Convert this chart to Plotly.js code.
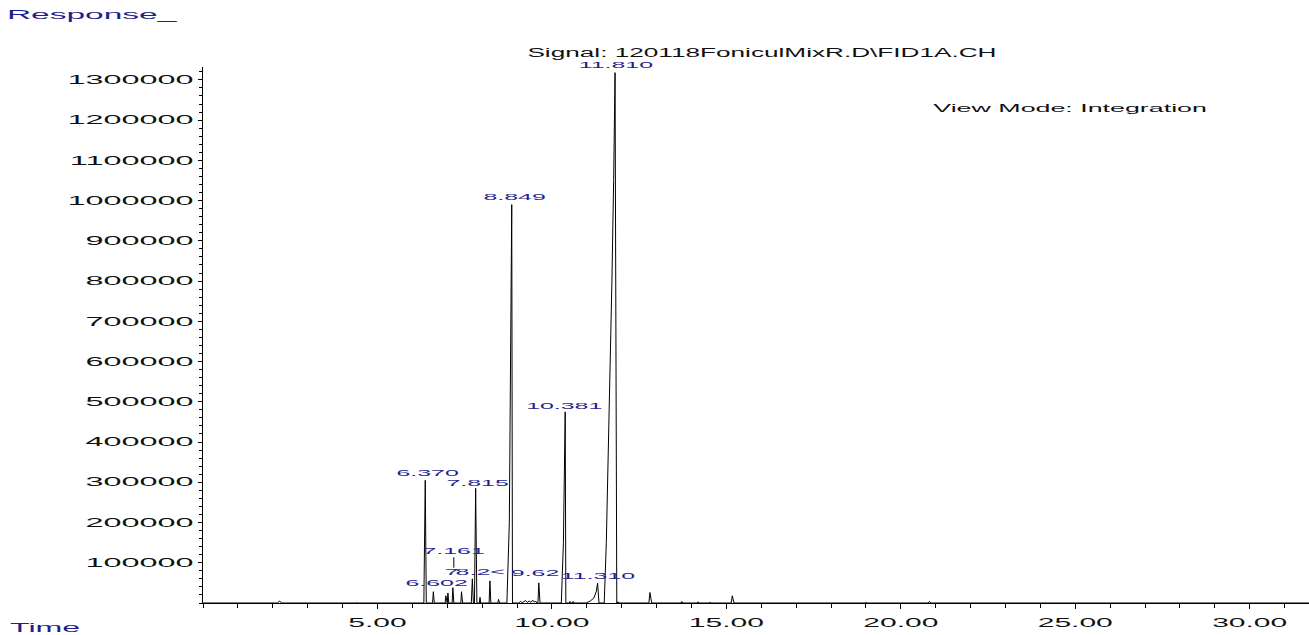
<!DOCTYPE html>
<html><head><meta charset="utf-8">
<script src="https://cdn.plot.ly/plotly-3.0.1.min.js"></script>
<style>html,body{margin:0;padding:0;background:#fff;overflow:hidden}#chart{width:1309px;height:635px}</style>
</head><body><div id="chart"></div>
<script>
// ---- data ----
const times = [
  0, 2.14, 2.19, 2.26, 4.37, 4.40, 4.43,
  6.33, 6.370, 6.40,
  6.58, 6.602, 6.63,
  6.94, 6.96, 6.985,
  7.00, 7.02, 7.045,
  7.14, 7.161, 7.19,
  7.39, 7.41, 7.44,
  7.69, 7.72, 7.75,
  7.78, 7.815, 7.85,
  7.92, 7.94, 7.96,
  8.20, 8.224, 8.25,
  8.45, 8.47, 8.50,
  8.71, 8.78, 8.83, 8.849, 8.87,
  9.05, 9.10, 9.15, 9.25, 9.30, 9.35, 9.40, 9.45, 9.50, 9.53, 9.57,
  9.60, 9.625, 9.66,
  10.27, 10.33, 10.381, 10.40,
  10.50, 10.52, 10.55,
  10.59, 10.61, 10.64,
  10.98, 11.10, 11.20, 11.27, 11.31, 11.35,
  11.50, 11.56, 11.64, 11.72, 11.77, 11.81, 11.86,
  11.87, 11.89, 11.92,
  12.78, 12.81, 12.86,
  13.70, 13.72, 13.75,
  14.17, 14.19, 14.22,
  14.51, 14.53, 14.56,
  15.14, 15.17, 15.22,
  15.33, 15.35, 15.38,
  15.58, 15.60, 15.63,
  15.88, 15.90, 15.93,
  18.98, 19.00, 19.03,
  20.79, 20.82, 20.86,
  24.21, 24.24, 24.27,
  31.7
];
const responses = [
  0, 0, 5000, 0, 0, 1500, 0,
  0, 305000, 0,
  0, 28000, 0,
  0, 18000, 0,
  0, 25000, 0,
  0, 38000, 0,
  0, 28000, 0,
  0, 60000, 0,
  0, 285000, 0,
  0, 14000, 0,
  0, 55000, 0,
  0, 9000, 0,
  0, 200000, 700000, 990000, 0,
  0, 4000, 1000, 6000, 1500, 5000, 1500, 7000, 2000, 5000, 0,
  0, 50000, 0,
  0, 150000, 475000, 0,
  0, 4000, 0,
  0, 4000, 0,
  0, 5000, 12000, 28000, 49000, 0,
  0, 150000, 450000, 800000, 1050000, 1318000, 0,
  0, 3000, 0,
  0, 26000, 0,
  0, 4000, 0,
  0, 3000, 0,
  0, 2000, 0,
  0, 18000, 0,
  0, 1500, 0,
  0, 1000, 0,
  0, 1000, 0,
  0, 2000, 0,
  0, 4000, 0,
  0, 1500, 0,
  0
];
const labelTimes = [6.370, 6.602, 7.161, 7.72, 7.815, 8.224, 8.849, 9.625, 10.381, 11.310, 11.810];
const labelTexts = ["6.370", "6.602", "7.161", "7", "7.815", "8.2&lt;", "8.849", "9.62", "10.381", "11.310", "11.810"];
const xTickVals = [5, 10, 15, 20, 25, 30];
const xTickText = ["5.00", "10.00", "15.00", "20.00", "25.00", "30.00"];
const yTickVals = [100000, 200000, 300000, 400000, 500000, 600000, 700000, 800000, 900000, 1000000, 1100000, 1200000, 1300000];
const yTickText = ["100000", "200000", "300000", "400000", "500000", "600000", "700000", "800000", "900000", "1000000", "1100000", "1200000", "1300000"];
const titleText = "Signal: 120118FoniculMixR.D\\FID1A.CH";

// ---- label placement (style) ----
const labelXShift = [2, 3, 1, -21, 2, -10, 3, -4, -1, 0, 1];
const labelYShift = [7, 9, 0, 7, 5, 9, 7.5, 10, 6, 7, 7.5];
const NAVY = '#1f1f8f';
const FONT = 'Liberation Sans, Arial, sans-serif';

const annotations = labelTimes.map((t, i) => {
  const h = responses[times.indexOf(t)];
  const a = {
    x: t, y: h, xref: 'x', yref: 'y', text: labelTexts[i],
    xanchor: 'center', yanchor: 'middle', xshift: labelXShift[i], yshift: labelYShift[i],
    showarrow: false, font: {family: FONT, size: 9.3, color: NAVY}
  };
  if (labelTexts[i] === '7.161') {
    Object.assign(a, {showarrow: true, ax: 0, ay: -37, arrowhead: 0, arrowwidth: 1, arrowcolor: '#000', standoff: 20});
  }
  return a;
});
annotations.push(
  {xref: 'paper', yref: 'paper', x: 0, y: 1, xshift: -111, yshift: 52, xanchor: 'center', yanchor: 'middle',
   text: 'Response_', showarrow: false, font: {family: FONT, size: 12.5, color: NAVY}},
  {xref: 'paper', yref: 'paper', x: 0, y: 0, xshift: -158, yshift: -25, xanchor: 'center', yanchor: 'middle',
   text: 'Time', showarrow: false, font: {family: FONT, size: 12, color: NAVY}},
  {xref: 'paper', yref: 'paper', x: 0.784, y: 0.9235, xanchor: 'center', yanchor: 'middle',
   text: 'View Mode: Integration', showarrow: false, font: {family: FONT, size: 10, color: '#111'}}
);

const trace = {
  x: times, y: responses, type: 'scatter', mode: 'lines',
  line: {color: '#000', width: 1}, hoverinfo: 'skip', showlegend: false
};

const layout = {
  width: 1309, height: 635, autosize: false,
  margin: {l: 203, r: 0, t: 67, b: 32, pad: 0},
  paper_bgcolor: '#fff', plot_bgcolor: '#fff',
  font: {family: FONT, color: '#111'},
  title: {text: titleText, font: {size: 12, color: '#111'}, xref: 'paper', x: 0.5054, xanchor: 'center',
          yref: 'container', y: 1 - 53 / 635, yanchor: 'middle'},
  xaxis: {
    range: [0, 31.7], showgrid: false, zeroline: false, showline: true, linecolor: '#000', linewidth: 1,
    ticks: 'outside', ticklen: 5, tickwidth: 1, tickcolor: '#000',
    tickvals: xTickVals, ticktext: xTickText, tickfont: {size: 12, color: '#111'},
    ticklabelstandoff: 4,
    minor: {dtick: 1, tick0: 0, ticks: 'outside', ticklen: 4, tickcolor: '#000', showgrid: false}
  },
  yaxis: {
    range: [0, 1332000], showgrid: false, zeroline: false, showline: true, linecolor: '#000', linewidth: 1,
    ticks: 'outside', ticklen: 4, tickwidth: 1, tickcolor: '#000',
    tickvals: yTickVals, ticktext: yTickText, tickfont: {size: 12, color: '#111'},
    ticklabelstandoff: 2,
    minor: {dtick: 20000, tick0: 0, ticks: 'outside', ticklen: 3, tickcolor: '#000', showgrid: false}
  },
  annotations: annotations,
  showlegend: false
};

function stretchText(gd) {
  const rules = [['g.xtick text', 2.5], ['g.ytick text', 2.7], ['.gtitle', 2.18], ['.annotation-text', 2.68]];
  rules.forEach(([sel, f]) => {
    gd.querySelectorAll(sel).forEach(el => {
      const w = el.getComputedTextLength();
      if (w > 0) {
        el.setAttribute('textLength', (w * f).toFixed(1));
        el.setAttribute('lengthAdjust', 'spacingAndGlyphs');
      }
    });
  });
}

const gd = document.getElementById('chart');
Plotly.newPlot(gd, [trace], layout, {displayModeBar: false, staticPlot: true}).then(stretchText);
</script>
</body></html>
